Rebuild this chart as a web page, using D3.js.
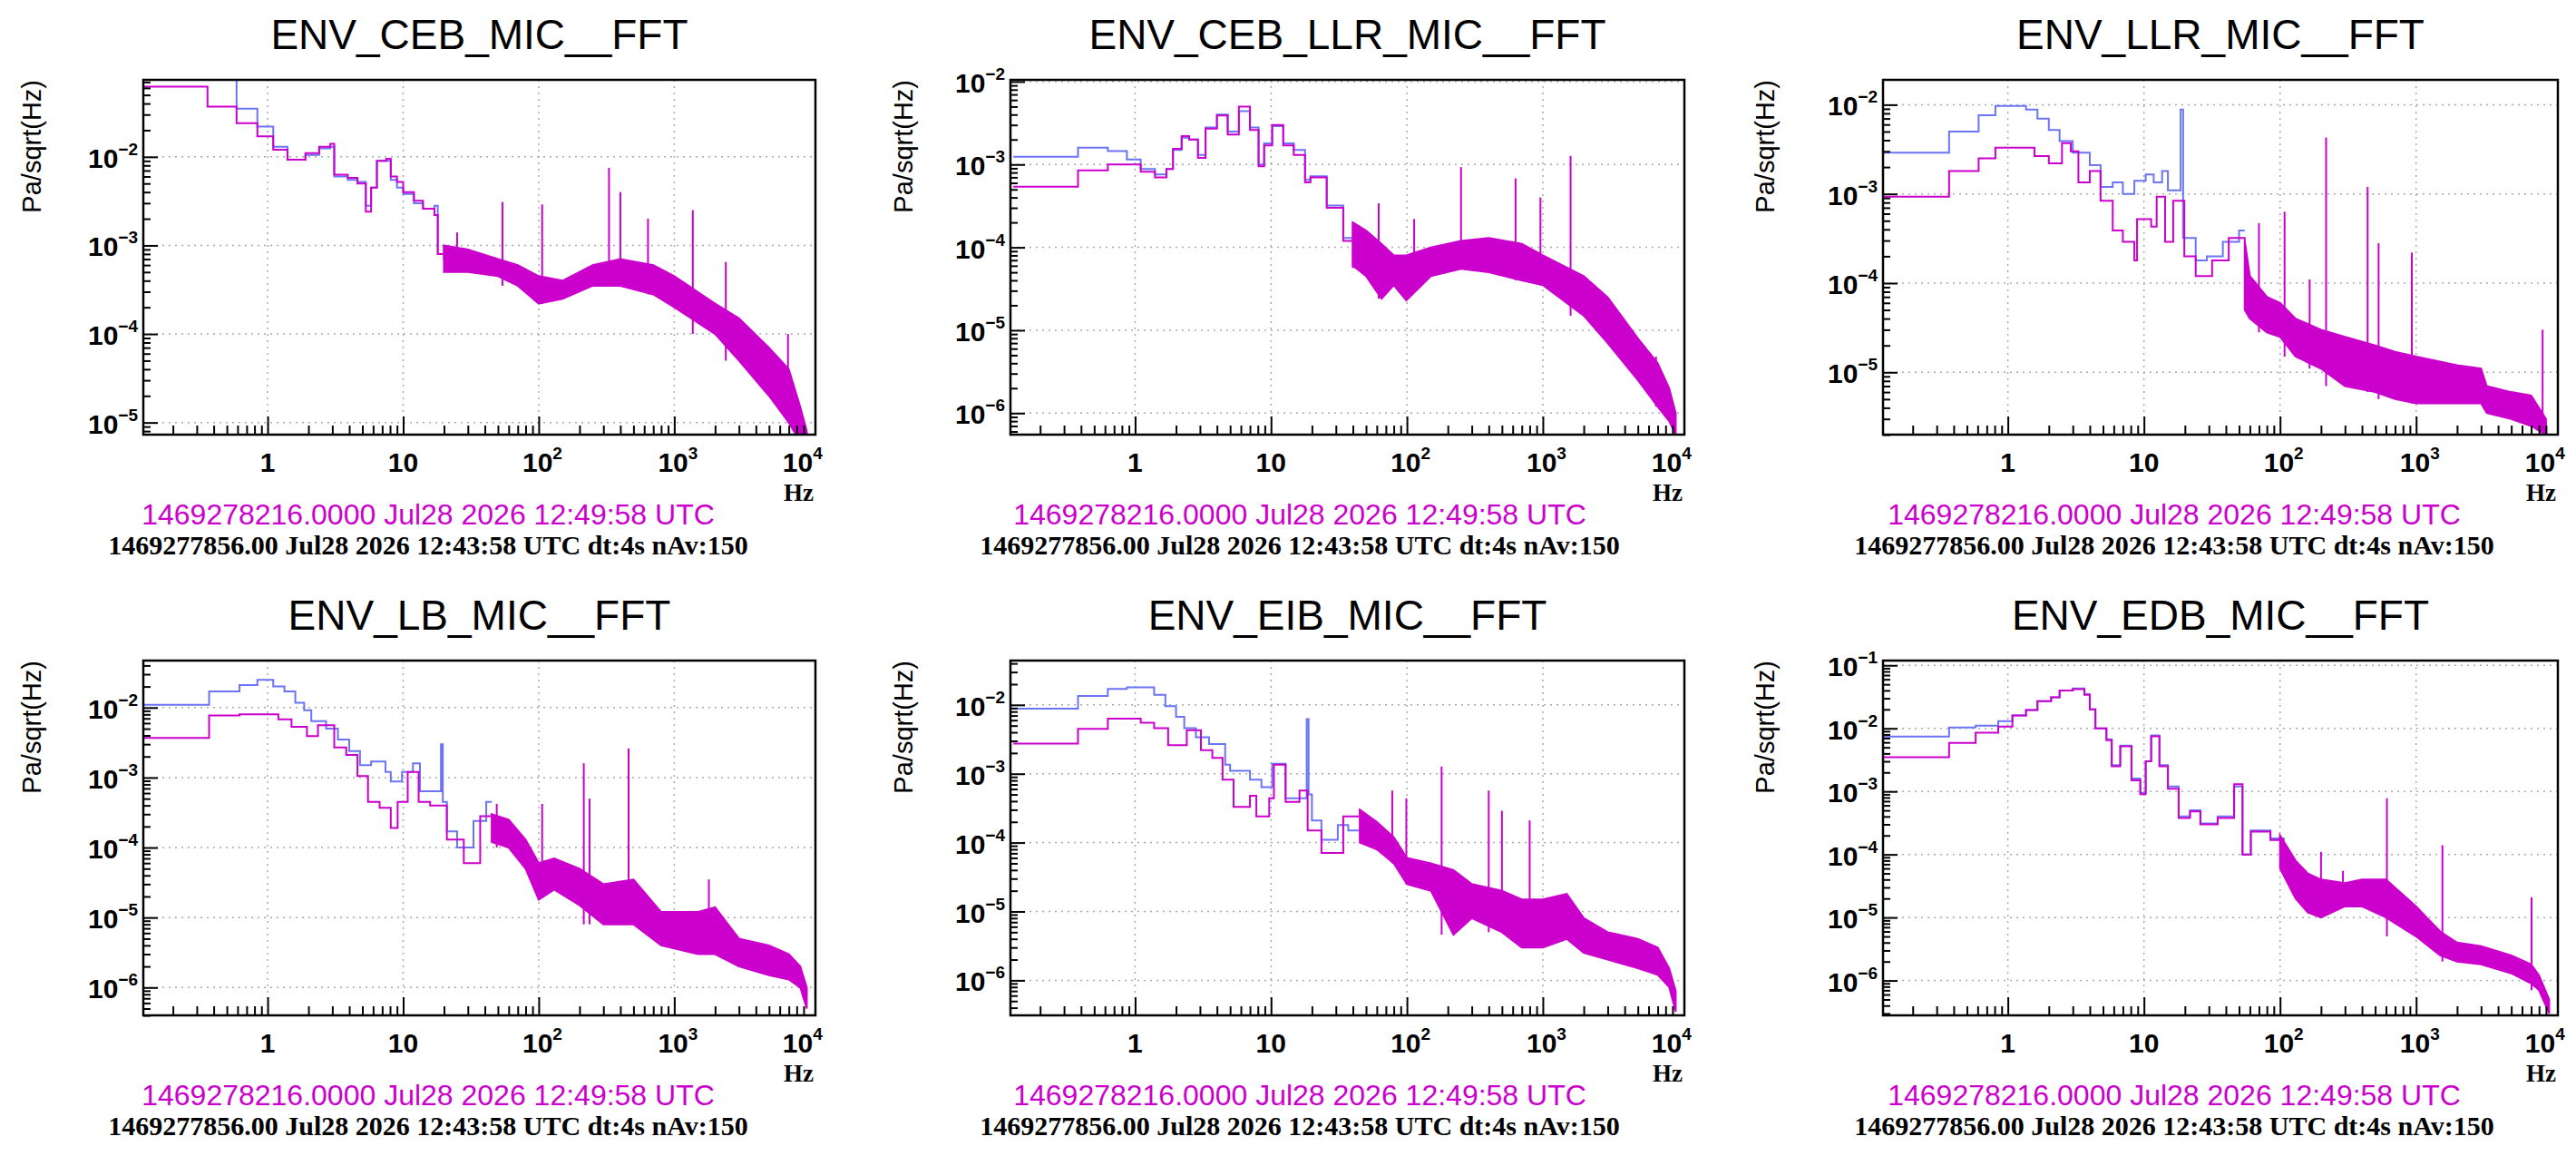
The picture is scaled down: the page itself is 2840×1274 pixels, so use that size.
<!DOCTYPE html>
<html>
<head>
<meta charset="utf-8">
<script src="https://cdn.jsdelivr.net/npm/d3@7"></script>
<style>
  body { margin: 0; background: #fff; }
  svg { display: block; }
</style>
</head>
<body>
<svg id="chart" width="2840" height="1274"></svg>
<script>
// ---- data (freq in Hz, amplitude in Pa/sqrt(Hz)) ----
const titles = ["ENV_CEB_MIC__FFT", "ENV_CEB_LLR_MIC__FFT", "ENV_LLR_MIC__FFT",
                "ENV_LB_MIC__FFT", "ENV_EIB_MIC__FFT", "ENV_EDB_MIC__FFT"];
const stampNow = "1469278216.0000 Jul28 2026 12:49:58 UTC";
const stampRef = "1469277856.00 Jul28 2026 12:43:58 UTC dt:4s nAv:150";
const xTickLabels = [[1, "1", ""], [10, "10", ""], [100, "10", "2"], [1000, "10", "3"], [10000, "10", "4"]];
const yDomains = [[7.3e-6, 0.074], [5.5e-7, 1.05e-2], [2.0e-6, 1.9e-2],
                  [4.0e-7, 4.7e-2], [3.1e-7, 4.4e-2], [2.8e-7, 0.119]];

// low-frequency step traces: reference (blue) and current (magenta)
const blueLow = [
  [[0.12,0.074],[0.59,0.035],[0.84,0.022],[1.1,0.013],[1.4,0.0093],[1.9,0.0105],[2.4,0.0125],[2.9,0.013],[3.1,0.006],[3.9,0.0055],[4.6,0.0052],[5.3,0.0028],[5.8,0.0045],[6.4,0.009],[7.5,0.009],[8.1,0.0055],[9,0.0045],[10,0.0038],[12,0.003],[14,0.0026],[17,0.0028],[18,0.0008],[22,0.0007]],
  [[0.127,1.24e-3],[0.38,1.6e-3],[0.63,1.45e-3],[0.87,1.15e-3],[1.1,8.8e-4],[1.4,7.6e-4],[1.7,8.8e-4],[1.9,1.5e-3],[2.2,2.1e-3],[2.5,2.0e-3],[2.9,1.3e-3],[3.3,2.8e-3],[4,4.0e-3],[4.8,2.5e-3],[5.8,4.4e-3],[7,2.8e-3],[8.1,1.0e-3],[8.9,1.8e-3],[10.2,2.9e-3],[12.3,1.8e-3],[14.7,1.5e-3],[17.8,6.5e-4],[19.5,7.2e-4],[25.7,3.2e-4],[34,1.3e-4],[41,6e-5],[45,6e-5]],
  [[0.12,2.9e-3],[0.37,5e-3],[0.61,7.6e-3],[0.81,9.7e-3],[1.36,8.8e-3],[1.65,7e-3],[2,5.2e-3],[2.4,3.9e-3],[3,2.9e-3],[4,2.1e-3],[4.8,1.2e-3],[5.9,1.35e-3],[7,1e-3],[8.5,1.4e-3],[10.3,1.65e-3],[11.8,1.35e-3],[13.6,1.8e-3],[15,1.1e-3],[18.6,8.8e-3],[19.4,3.2e-4],[24,1.8e-4],[29,2e-4],[38,2.9e-4],[50,3.9e-4],[55,3.9e-4]],
  [[0.12,1.1e-2],[0.37,1.7e-2],[0.62,2.1e-2],[0.84,2.5e-2],[1.1,2e-2],[1.33,1.7e-2],[1.6,1.17e-2],[1.86,9.2e-3],[2.1,6.4e-3],[2.7,5e-3],[3.3,3.5e-3],[4,2.4e-3],[4.8,1.5e-3],[5.8,1.7e-3],[7.4,1.2e-3],[8.1,8.8e-4],[9.8,1.2e-3],[11.8,1.6e-3],[13.3,6.4e-4],[19,3e-3],[19.6,4.5e-4],[21,1.7e-4],[25,1e-4],[33,2.4e-4],[41,4.5e-4],[45,4.5e-4]],
  [[0.127,8.8e-3],[0.38,1.35e-2],[0.63,1.7e-2],[0.87,1.8e-2],[1.38,1.4e-2],[1.67,9.6e-3],[2,6.7e-3],[2.3,4.6e-3],[2.8,3.4e-3],[3.5,2.7e-3],[4.6,1.35e-3],[5,1.1e-3],[7,8.2e-4],[8.5,6.4e-4],[10.2,1.4e-3],[12.8,4.4e-4],[18.3,6.2e-3],[18.9,5e-4],[20,2.1e-4],[23.5,1.1e-4],[31,1.8e-4],[37,1.5e-4],[45,1.5e-4]],
  [[0.12,7.4e-3],[0.37,1.03e-2],[0.58,1.1e-2],[0.85,1.3e-2],[1.08,1.6e-2],[1.36,1.96e-2],[1.65,2.7e-2],[2.08,3.1e-2],[2.4,4e-2],[3,4.3e-2],[3.65,3.5e-2],[4,2e-2],[4.4,1e-2],[5.3,6.7e-3],[5.8,2.6e-3],[6.7,5.3e-3],[8.1,1.6e-3],[9.4,9.5e-4],[10.3,3e-3],[11.3,7.7e-3],[13,2.6e-3],[15,1.2e-3],[18,4e-4],[21.8,5e-4],[26,3.1e-4],[34.8,4e-4],[46,1.2e-3],[53,1e-4],[61,2.4e-4],[85,1.8e-4],[108,1.8e-4]]
];
const magLow = [
  [[0.12,0.062],[0.36,0.037],[0.59,0.024],[0.84,0.017],[1.1,0.012],[1.4,0.0093],[1.9,0.011],[2.4,0.013],[2.9,0.014],[3.1,0.0063],[3.9,0.0058],[4.6,0.005],[5.3,0.0024],[5.8,0.0045],[6.4,0.009],[7.5,0.0095],[8.1,0.006],[9,0.0052],[10,0.004],[12,0.0032],[14,0.0026],[17,0.0022],[18,0.0008],[22,0.0007]],
  [[0.127,5.4e-4],[0.38,8.5e-4],[0.63,1.0e-3],[1.1,8.2e-4],[1.4,7e-4],[1.7,8.8e-4],[1.9,1.55e-3],[2.2,2.2e-3],[2.5,2.0e-3],[2.9,1.2e-3],[3.3,2.7e-3],[4,3.9e-3],[4.8,2.3e-3],[5.8,5e-3],[7,2.6e-3],[8.1,9.5e-4],[8.9,1.7e-3],[10.2,3e-3],[12.3,1.7e-3],[14.7,1.3e-3],[17.8,6.1e-4],[19.5,7e-4],[25.7,3e-4],[34,1.2e-4],[41,5.8e-5],[45,5.8e-5]],
  [[0.12,9.3e-4],[0.37,1.8e-3],[0.61,2.5e-3],[0.81,3.3e-3],[1.57,2.65e-3],[2,2.2e-3],[2.5,3.7e-3],[2.9,3e-3],[3.3,1.35e-3],[4,1.8e-3],[4.8,8.4e-4],[5.9,3.9e-4],[7,2.9e-4],[8.5,1.8e-4],[8.9,5.2e-4],[11.3,4.3e-4],[12.4,9.3e-4],[14.3,2.9e-4],[16.4,8.4e-4],[19.8,2e-4],[24,1.2e-4],[31.7,1.8e-4],[42,3.2e-4],[53,3.2e-4]],
  [[0.12,3.7e-3],[0.37,7.7e-3],[0.62,8e-3],[1.2,6.8e-3],[1.5,5.3e-3],[1.95,3.9e-3],[2.35,5.6e-3],[3.1,2.7e-3],[3.8,2.1e-3],[4.6,1.05e-3],[5.5,4.5e-4],[6.7,3.7e-4],[8.1,1.9e-4],[9.1,4.5e-4],[10.8,1.2e-3],[13,4.5e-4],[15.8,4e-4],[21,1.3e-4],[28,6e-5],[37,2.8e-4],[45,2.8e-4]],
  [[0.127,2.75e-3],[0.38,4.5e-3],[0.63,6.3e-3],[1.1,5.5e-3],[1.38,4.6e-3],[1.75,2.6e-3],[2.4,4.3e-3],[3.05,2.2e-3],[3.7,1.7e-3],[4.4,8.2e-4],[5.3,3.3e-4],[7,4.8e-4],[7.8,2.4e-4],[9.7,4.4e-4],[10.5,1.35e-3],[12.8,3.9e-4],[16.2,5.7e-4],[18.6,1.5e-4],[23.5,7.1e-5],[34,2.4e-4],[45,2.4e-4]],
  [[0.12,3.5e-3],[0.37,5.9e-3],[0.58,8.5e-3],[0.85,1.07e-2],[1.08,1.6e-2],[1.36,1.96e-2],[1.65,2.7e-2],[2.08,3.1e-2],[2.4,4e-2],[3,4.2e-2],[3.65,3.4e-2],[4,2e-2],[4.4,1e-2],[5.3,6.5e-3],[5.8,2.5e-3],[6.7,5.2e-3],[8.1,1.5e-3],[9.4,9e-4],[10.3,3e-3],[11.3,7.5e-3],[13,2.5e-3],[15,1.1e-3],[18,3.8e-4],[21.8,4.8e-4],[26,3e-4],[34.8,3.8e-4],[46,1.3e-3],[53,1e-4],[61,2.3e-4],[85,1.7e-4],[108,1.7e-4]]
];
// dense high-frequency noise band: [freq, lower envelope, upper envelope]
const bands = [
  [[20,5e-4,1e-3],[30,5e-4,9e-4],[50,4.5e-4,7e-4],[70,3.5e-4,6e-4],[100,2.2e-4,4.5e-4],[150,2.5e-4,4e-4],[250,3.5e-4,6e-4],[400,3.5e-4,7e-4],[700,2.8e-4,6e-4],[1000,2e-4,4.5e-4],[2000,1e-4,2.2e-4],[3000,5e-5,1.5e-4],[5000,2e-5,7e-5],[7000,1e-5,4e-5],[8500,6e-6,1.5e-5],[9500,5e-6,8e-6]],
  [[40,6e-5,2e-4],[50,4.5e-5,1.6e-4],[65,2.4e-5,1.1e-4],[80,3.5e-5,8e-5],[99,2.3e-5,8e-5],[150,4.5e-5,1e-4],[250,5.5e-5,1.2e-4],[400,5e-5,1.3e-4],[700,4e-5,1.1e-4],[1000,3.5e-5,8e-5],[2000,1.5e-5,4.5e-5],[3000,7e-6,2.5e-5],[5000,2.5e-6,8e-6],[7000,1.2e-6,4e-6],[8500,8e-7,2e-6],[9500,5.5e-7,1e-6]],
  [[55,5e-5,3e-4],[60,4e-5,1.2e-4],[80,2.8e-5,7e-5],[100,2.5e-5,6e-5],[130,1.5e-5,4e-5],[200,1.1e-5,3e-5],[300,7e-6,2.5e-5],[500,6e-6,2e-5],[700,5e-6,1.7e-5],[1000,4.5e-6,1.5e-5],[2000,4.5e-6,1.2e-5],[3000,4.5e-6,1.1e-5],[3300,3.5e-6,7e-6],[5000,3e-6,6e-6],[7000,2.5e-6,5.5e-6],[9000,2e-6,3e-6]],
  [[45,1.2e-4,3e-4],[60,1e-4,2.5e-4],[80,5e-5,1.3e-4],[100,1.8e-5,6e-5],[130,2.5e-5,7e-5],[200,1.5e-5,5e-5],[300,8e-6,3e-5],[500,8e-6,3.5e-5],[800,4e-6,1.2e-5],[1500,3e-6,1.2e-5],[2000,3e-6,1.4e-5],[3000,2e-6,5e-6],[5000,1.5e-6,4e-6],[7000,1.3e-6,3e-6],[8500,1e-6,2e-6],[9500,5e-7,1e-6]],
  [[45,1e-4,3e-4],[60,8e-5,2e-4],[80,5e-5,1.2e-4],[100,2.5e-5,6e-5],[150,2e-5,5e-5],[220,4.6e-6,4e-5],[300,8e-6,2.5e-5],[500,5e-6,2e-5],[700,3e-6,1.5e-5],[1000,3e-6,1.5e-5],[1500,4e-6,1.8e-5],[2000,2.5e-6,8e-6],[3000,2e-6,5e-6],[5000,1.5e-6,4e-6],[7000,1.2e-6,3e-6],[8500,8e-7,1.5e-6],[9500,3.5e-7,7e-7]],
  [[100,6e-5,2e-4],[130,2e-5,8e-5],[160,1.2e-5,5e-5],[200,1e-5,4e-5],[300,1.5e-5,3.5e-5],[400,1.5e-5,4e-5],[600,1e-5,4e-5],[1000,5e-6,1.5e-5],[1500,2.5e-6,6e-6],[2000,2e-6,4e-6],[3000,1.8e-6,3.5e-6],[5000,1.3e-6,2.5e-6],[7000,9e-7,1.8e-6],[8000,7e-7,1.2e-6],[9500,3e-7,5e-7]]
];
// narrow lines standing out of the band: [freq, peak]
const spikes = [
  [[25,1.4e-3],[54,3.1e-3],[106,2.9e-3],[330,7.5e-3],[400,4e-3],[640,2e-3],[1370,2.5e-3],[2400,6.5e-4],[6900,1e-4]],
  [[62,3.4e-4],[113,2.2e-4],[250,9.3e-4],[630,6.8e-4],[960,4e-4],[1600,1.27e-3],[6800,4.8e-6]],
  [[70,4.7e-4],[108,6.3e-4],[165,1.1e-4],[218,4.3e-3],[440,1.2e-3],[530,2.8e-4],[930,2.2e-4],[8500,3e-5]],
  [[49,4.2e-4],[106,4.2e-4],[215,1.6e-3],[237,5e-4],[460,2.6e-3],[1800,3.5e-5]],
  [[78,5.7e-4],[99,4.4e-4],[180,1.27e-3],[400,5.7e-4],[500,2.9e-4],[800,2.1e-4]],
  [[200,1.1e-4],[290,5.5e-5],[610,7.8e-4],[1560,1.4e-4],[7050,2.1e-5]]
];

// ---- layout ----
const colX = [0, 950, 1900];
const rowY = [0, 640];
const plotLeft = [158, 164, 176];
const plotRight = [899, 907, 920];
const xDomain = [0.121, 11000];
const blue = "#6a74f4", magenta = "#cc00cc";
const sans = "Liberation Sans, Arial", serif = "Liberation Serif, Times New Roman";

const svg = d3.select("#chart");
const isDecade = d => Math.abs(Math.log10(d) - Math.round(Math.log10(d))) < 1e-9;

titles.forEach((title, i) => {
  const col = i % 3, row = Math.floor(i / 3);
  const ox = colX[col], oy = rowY[row];
  const L = ox + plotLeft[col], R = ox + plotRight[col];
  const T = oy + 88, B = oy + 479;

  const x = d3.scaleLog().domain(xDomain).range([L, R]);
  const y = d3.scaleLog().domain(yDomains[i]).range([B, T]);
  const g = svg.append("g");

  // title
  g.append("text").attr("x", (L + R) / 2).attr("y", oy + 54)
    .attr("text-anchor", "middle").attr("font-family", sans)
    .attr("font-size", 46).text(title);

  // grid
  const yDecades = d3.range(-7, 1).map(e => Math.pow(10, e)).filter(v => v >= yDomains[i][0] && v <= yDomains[i][1]);
  const xDecades = [1, 10, 100, 1000];
  g.selectAll(".gx").data(xDecades).join("line")
    .attr("x1", d => x(d)).attr("x2", d => x(d)).attr("y1", T).attr("y2", B)
    .attr("stroke", "#aaa").attr("stroke-width", 1.5).attr("stroke-dasharray", "2,5");
  g.selectAll(".gy").data(yDecades).join("line")
    .attr("x1", L).attr("x2", R).attr("y1", d => y(d)).attr("y2", d => y(d))
    .attr("stroke", "#aaa").attr("stroke-width", 1.5).attr("stroke-dasharray", "2,5");

  const clipId = "clip" + i;
  g.append("clipPath").attr("id", clipId).append("rect")
    .attr("x", L).attr("y", T).attr("width", R - L).attr("height", B - T);
  const plot = g.append("g").attr("clip-path", `url(#${clipId})`);

  const line = d3.line().x(d => x(d[0])).y(d => y(d[1])).curve(d3.curveStepAfter);

  // blue reference trace
  plot.append("path").datum(blueLow[i]).attr("d", line)
    .attr("fill", "none").attr("stroke", blue).attr("stroke-width", 2);

  // band
  const area = d3.area().x(d => x(d[0])).y0(d => y(d[1])).y1(d => y(d[2])).curve(d3.curveLinear);
  plot.append("path").datum(bands[i]).attr("d", area)
    .attr("fill", magenta).attr("stroke", magenta).attr("stroke-width", 2);

  const first = bands[i][0];
  plot.append("path").datum(magLow[i].concat([[first[0], first[2]]])).attr("d", line)
    .attr("fill", "none").attr("stroke", magenta).attr("stroke-width", 2);

  // spikes from band upper envelope
  const upper = f => {
    const b = bands[i];
    const k = d3.bisector(d => d[0]).left(b, f);
    return b[Math.max(0, Math.min(b.length - 1, k))][1];
  };
  plot.selectAll(".sp").data(spikes[i]).join("line")
    .attr("x1", d => x(d[0])).attr("x2", d => x(d[0]))
    .attr("y1", d => y(upper(d[0]))).attr("y2", d => y(d[1]))
    .attr("stroke", magenta).attr("stroke-width", 2);

  // frame
  g.append("rect").attr("x", L).attr("y", T).attr("width", R - L).attr("height", B - T)
    .attr("fill", "none").attr("stroke", "#000").attr("stroke-width", 2.5);

  // x ticks (inside)
  const xMinor = [];
  [0.1, 1, 10, 100, 1000].forEach(dec => d3.range(1, 10).forEach(m => {
    const v = dec * m; if (v >= xDomain[0] && v <= xDomain[1]) xMinor.push(v);
  }));
  g.append("g").attr("transform", `translate(0,${B})`)
    .call(d3.axisBottom(x).tickValues(xMinor).tickFormat("").tickSizeInner(-10).tickSizeOuter(0))
    .call(a => a.select(".domain").remove())
    .call(a => a.selectAll(".tick line").attr("stroke-width", 2)
      .attr("y2", d => isDecade(d) ? -20 : -10));

  // y ticks (inside)
  const yMinor = [];
  d3.range(-8, 1).forEach(e => d3.range(1, 10).forEach(m => {
    const v = m * Math.pow(10, e); if (v >= yDomains[i][0] && v <= yDomains[i][1]) yMinor.push(v);
  }));
  g.append("g").attr("transform", `translate(${L},0)`)
    .call(d3.axisLeft(y).tickValues(yMinor).tickFormat("").tickSizeInner(-8).tickSizeOuter(0))
    .call(a => a.select(".domain").remove())
    .call(a => a.selectAll(".tick line").attr("stroke-width", 2)
      .attr("x2", d => isDecade(d) ? 16 : 8));

  // x labels
  xTickLabels.forEach(([v, base, exp]) => {
    const t = g.append("text").attr("x", x(v) + (exp ? 4 : 0)).attr("y", oy + 520)
      .attr("text-anchor", "middle").attr("font-family", sans)
      .attr("font-weight", "bold").attr("font-size", 30).text(base);
    if (v === 10000) t.attr("x", x(v) + 14).attr("text-anchor", "end");
    if (exp) t.append("tspan").attr("dy", -14).attr("font-size", 19).text(exp);
  });
  g.append("text").attr("x", R - 2).attr("y", oy + 552).attr("text-anchor", "end")
    .attr("font-family", serif).attr("font-weight", "bold")
    .attr("font-size", 27).text("Hz");

  // y labels
  yDecades.forEach(v => {
    const e = Math.round(Math.log10(v));
    const t = g.append("text").attr("x", L - 6).attr("y", y(v) + 12)
      .attr("text-anchor", "end").attr("font-family", sans)
      .attr("font-weight", "bold").attr("font-size", 30).text("10");
    t.append("tspan").attr("dy", -14).attr("font-size", 19).text("\u2212" + (-e));
  });
  g.append("text").attr("transform", `translate(${ox + (col ? 56 : 45)},${T}) rotate(-90)`)
    .attr("text-anchor", "end").attr("font-family", sans)
    .attr("font-size", 29).text("Pa/sqrt(Hz)");

  // time stamps
  const cx = ox + [472, 483, 497][col];
  g.append("text").attr("x", cx).attr("y", oy + 578).attr("text-anchor", "middle")
    .attr("font-family", sans).attr("font-size", 32).attr("fill", magenta)
    .text(stampNow);
  g.append("text").attr("x", cx).attr("y", oy + 611).attr("text-anchor", "middle")
    .attr("font-family", serif).attr("font-weight", "bold")
    .attr("font-size", 30).text(stampRef);
});
</script>
</body>
</html>
